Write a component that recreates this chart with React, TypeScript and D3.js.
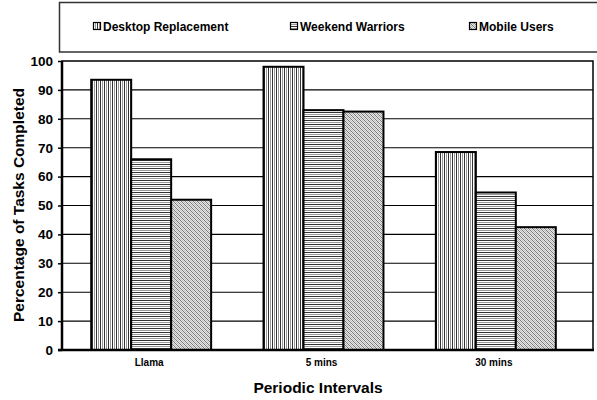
import { useEffect, useRef } from 'react';
import { select, scaleBand, scaleLinear, axisLeft, range } from 'd3';

const categories = ['Llama', '5 mins', '30 mins'];
const seriesNames = ['Desktop Replacement', 'Weekend Warriors', 'Mobile Users'];
const desktopValues = [93.5, 98, 68.5];
const weekendValues = [66, 83, 54.5];
const mobileValues = [52, 82.5, 42.5];
const yTicks = range(0, 101, 10);

const W = 597;
const H = 400;
const left = 62;
const right = 593;
const top = 61;
const bottom = 350;
const font = '"Liberation Sans", Arial, sans-serif';

const App = () => {
  const ref = useRef<SVGSVGElement>(null);

  useEffect(() => {
    const svg = select(ref.current);
    svg.selectAll('*').remove();

    const defs = svg.append('defs');
    // vertical stripes
    const p1 = defs.append('pattern').attr('id', 'pat0').attr('patternUnits', 'userSpaceOnUse')
      .attr('width', 4).attr('height', 4);
    p1.append('rect').attr('width', 4).attr('height', 4).attr('fill', '#fff');
    p1.append('rect').attr('x', 0).attr('width', 1).attr('height', 4).attr('fill', '#333');
    p1.append('rect').attr('x', 2).attr('width', 1).attr('height', 4).attr('fill', '#999');
    // horizontal stripes
    const p2 = defs.append('pattern').attr('id', 'pat1').attr('patternUnits', 'userSpaceOnUse')
      .attr('width', 4).attr('height', 4);
    p2.append('rect').attr('width', 4).attr('height', 4).attr('fill', '#fff');
    p2.append('rect').attr('y', 0).attr('width', 4).attr('height', 1).attr('fill', '#333');
    p2.append('rect').attr('y', 2).attr('width', 4).attr('height', 1).attr('fill', '#999');
    // diagonal checker
    const p3 = defs.append('pattern').attr('id', 'pat2').attr('patternUnits', 'userSpaceOnUse')
      .attr('width', 4).attr('height', 4);
    p3.append('rect').attr('width', 4).attr('height', 4).attr('fill', '#e8e8e8');
    p3.append('path').attr('d', 'M0,0h1v1h-1zM1,1h1v1h-1zM2,2h1v1h-1zM3,3h1v1h-1zM2,0h1v1h-1zM3,1h1v1h-1zM0,2h1v1h-1zM1,3h1v1h-1z')
      .attr('fill', '#777');
    p3.append('path').attr('d', 'M2,0h1v1h-1zM3,1h1v1h-1zM0,2h1v1h-1zM1,3h1v1h-1z').attr('fill', '#bbb');

    const x = scaleBand<string>().domain(categories).range([65, 582])
      .paddingInner(0.304).paddingOuter(0.152);
    const xs = scaleBand<string>().domain(seriesNames).range([0, x.bandwidth()]);
    const y = scaleLinear().domain([0, 100]).range([bottom, top]);

    // legend box
    svg.append('rect').attr('x', 59.5).attr('y', 2.5).attr('width', 545).attr('height', 49.5)
      .attr('fill', '#fff').attr('stroke', '#333').attr('stroke-width', 1.5);
    const legendX = [93, 290, 469];
    seriesNames.forEach((s, i) => {
      const g = svg.append('g').attr('transform', `translate(${legendX[i]},22)`);
      g.append('rect').attr('x', 0.5).attr('y', 0.5).attr('width', 7).attr('height', 7)
        .attr('fill', `url(#pat${i})`).attr('stroke', '#000').attr('stroke-width', 1.2);
      g.append('text').attr('x', 10).attr('y', 8.5).attr('font-family', font).attr('font-weight', 'bold')
        .attr('font-size', 12).attr('fill', '#000').text(s);
    });

    // plot box
    svg.append('rect').attr('x', left).attr('y', top).attr('width', right - left).attr('height', bottom - top)
      .attr('fill', '#fff').attr('stroke', '#000').attr('stroke-width', 1.5);

    // grid
    svg.append('g').selectAll('line').data(yTicks.filter((t) => t > 0 && t < 100)).join('line')
      .attr('x1', left).attr('x2', right).attr('y1', (d) => y(d)).attr('y2', (d) => y(d))
      .attr('stroke', '#000').attr('stroke-width', 1.1);

    const all = [desktopValues, weekendValues, mobileValues];
    seriesNames.forEach((s, si) => {
      svg.append('g').selectAll('rect').data(all[si]).join('rect')
        .attr('x', (_, i) => (x(categories[i]) as number) + (xs(s) as number))
        .attr('y', (d) => y(d))
        .attr('width', xs.bandwidth())
        .attr('height', (d) => bottom - y(d))
        .attr('fill', `url(#pat${si})`)
        .attr('stroke', '#000').attr('stroke-width', 2);
    });

    // axes
    const ya = svg.append('g').attr('transform', `translate(${left},0)`)
      .call(axisLeft(y).tickValues(yTicks).tickSize(4).tickSizeOuter(0) as any);
    ya.select('.domain').remove();
    ya.selectAll('text').attr('font-family', font).attr('font-weight', 'bold').attr('font-size', 13.5)
      .attr('fill', '#000').attr('x', -9);
    ya.selectAll('line').attr('stroke', '#000').attr('stroke-width', 1.5);

    svg.append('line').attr('x1', left).attr('x2', left).attr('y1', top).attr('y2', bottom + 1)
      .attr('stroke', '#000').attr('stroke-width', 2.5);
    svg.append('line').attr('x1', left - 4).attr('x2', right + 1).attr('y1', bottom).attr('y2', bottom)
      .attr('stroke', '#000').attr('stroke-width', 2.5);

    svg.append('g').selectAll('text').data(categories).join('text')
      .attr('x', (d) => (x(d) as number) + x.bandwidth() / 2 - 2).attr('y', 366)
      .attr('text-anchor', 'middle').attr('font-family', font).attr('font-weight', 'bold')
      .attr('font-size', 10).attr('fill', '#000').text((d) => d);

    svg.append('text').attr('x', 318).attr('y', 393).attr('text-anchor', 'middle')
      .attr('font-family', font).attr('font-weight', 'bold').attr('font-size', 15.5).text('Periodic Intervals');

    svg.append('text').attr('transform', `translate(24,205) rotate(-90)`)
      .attr('text-anchor', 'middle').attr('font-family', font).attr('font-weight', 'bold')
      .attr('font-size', 15.5).text('Percentage of Tasks Completed');
  }, []);

  return (
    <svg ref={ref} width={W} height={H}
      style={{ position: 'absolute', left: 0, top: 0, background: '#fff' }} />
  );
};

export default App;
